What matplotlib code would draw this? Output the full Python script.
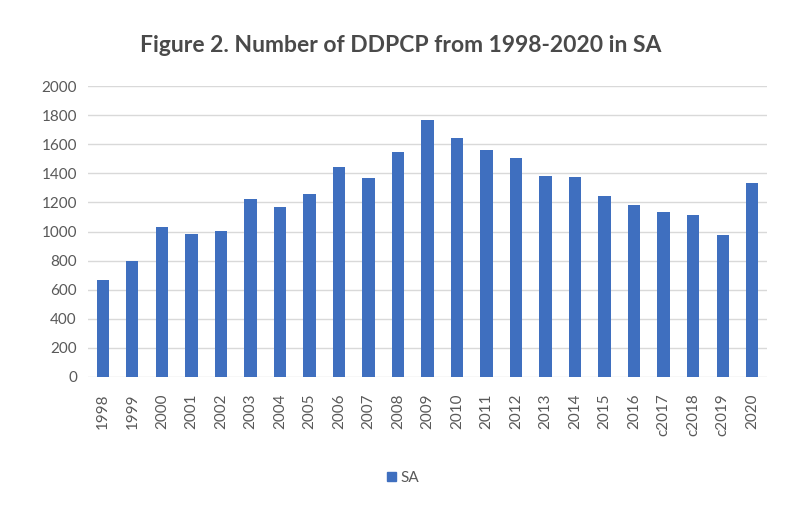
import matplotlib
matplotlib.use("Agg")
import matplotlib.pyplot as plt
from matplotlib.patches import Patch

categories = ["1998", "1999", "2000", "2001", "2002", "2003", "2004", "2005",
              "2006", "2007", "2008", "2009", "2010", "2011", "2012", "2013",
              "2014", "2015", "2016", "c2017", "c2018", "c2019", "2020"]
values = [668, 800, 1030, 985, 1003, 1222, 1166, 1258, 1443, 1368, 1548,
          1765, 1642, 1560, 1505, 1381, 1372, 1242, 1182, 1135, 1112, 976, 1336]
yticks = [0, 200, 400, 600, 800, 1000, 1200, 1400, 1600, 1800, 2000]
series_name = "SA"
title = "Figure 2. Number of DDPCP from 1998-2020 in SA"

plt.rcParams['font.family'] = ['Lato', 'DejaVu Sans']
bar_color = '#3f6fbf'
text_color = '#595959'

fig = plt.figure(figsize=(7.85, 5.08), dpi=100)
ax = fig.add_axes([88/785, 131/508, 679/785, 291/508])

x = list(range(len(categories)))
ax.bar(x, values, width=0.42, color=bar_color, zorder=3)
ax.set_xlim(-0.5, len(categories) - 0.5)
ax.set_ylim(0, 2000)
ax.set_yticks(yticks)
ax.set_yticklabels([str(v) for v in yticks], fontsize=11, color=text_color)
ax.set_xticks(x)
ax.set_xticklabels(categories, rotation=90, fontsize=11, color=text_color)
ax.tick_params(axis='both', length=0)
ax.tick_params(axis='y', pad=8)
ax.tick_params(axis='x', pad=12)
ax.grid(axis='y', color='#d9d9d9', linewidth=1, zorder=0)
for s in ax.spines.values():
    s.set_visible(False)

fig.text(401/785, 1 - 45/508, title, ha='center', va='center',
         fontsize=16.5, fontweight='bold', color='#4a4a4a')

handle = Patch(color=bar_color, label=series_name)
leg = fig.legend(handles=[handle], loc='center', bbox_to_anchor=(403/785, 1 - 478/508),
                 frameon=False, fontsize=11, handlelength=0.6, handleheight=0.6,
                 handletextpad=0.3)
for t in leg.get_texts():
    t.set_color(text_color)

fig.savefig("out.png", dpi=100, facecolor='white')
